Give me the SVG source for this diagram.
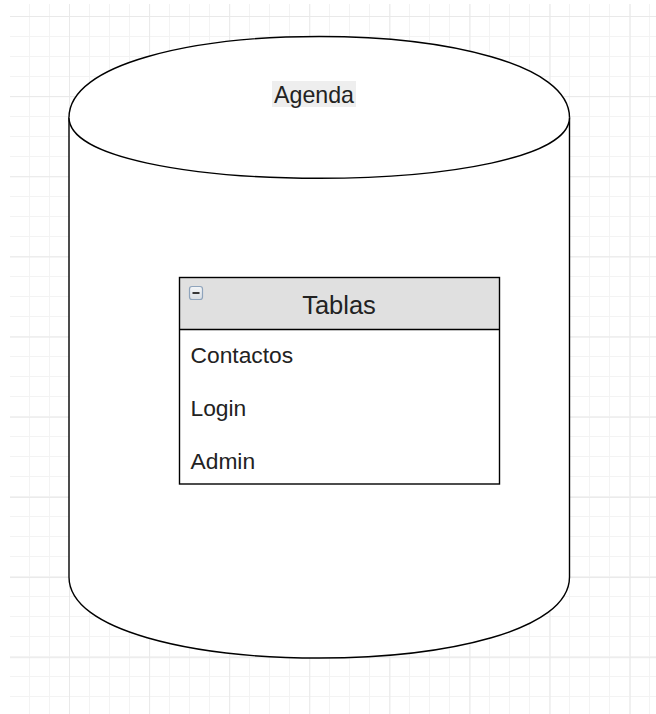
<svg xmlns="http://www.w3.org/2000/svg" width="656" height="714" viewBox="0 0 656 714">
  <style>
    .shape { fill: #ffffff; stroke: #000000; stroke-width: 1.4; }
    .lbl { font-family: "Liberation Sans", Arial, sans-serif; fill: #222222; }
    .item { font-size: 22.8px; }
  </style>
  <defs>
    <pattern id="minor" patternUnits="userSpaceOnUse" x="9" y="16" width="20" height="20">
      <path d="M0.5,0 V20 M0,0.5 H20" stroke="#f3f3f3" stroke-width="1" fill="none"/>
    </pattern>
    <pattern id="major" patternUnits="userSpaceOnUse" x="69" y="16" width="80.1" height="80.15">
      <path d="M0.5,0 V80.15 M0,0.5 H80.1" stroke="#e9e9e9" stroke-width="1" fill="none"/>
    </pattern>
    <linearGradient id="iconGrad" x1="0" y1="0" x2="0" y2="1">
      <stop offset="0" stop-color="#f4f6f8"/>
      <stop offset="1" stop-color="#d8dde3"/>
    </linearGradient>
  </defs>

  <rect x="0" y="0" width="656" height="714" fill="#ffffff"/>
  <g id="grid">
    <rect x="10" y="4" width="646" height="710" fill="url(#minor)"/>
    <rect x="10" y="4" width="646" height="710" fill="url(#major)"/>
  </g>

  <g id="connectors"/>

  <g id="agenda">
    <path class="shape" d="M69,117.5 C69,9.5 569.5,9.5 569.5,117.5 L569.5,577 C569.5,685 69,685 69,577 Z"/>
    <path class="shape" fill="none" d="M69,117.5 C69,198.5 569.5,198.5 569.5,117.5"/>
    <rect x="272" y="81" width="84" height="26" fill="#eeeeee"/>
    <text class="lbl" x="314" y="103" font-size="23.2" text-anchor="middle">Agenda</text>
  </g>

  <g id="tablas">
    <rect x="179.5" y="277.5" width="320" height="52" fill="#e0e0e0" stroke="none"/>
    <rect x="179.5" y="277.5" width="320" height="206.5" fill="none" stroke="#000000" stroke-width="1.4"/>
    <line x1="179.5" y1="329.5" x2="499.5" y2="329.5" stroke="#000000" stroke-width="1.4"/>
    <g id="collapse-icon">
      <rect x="189.5" y="286.5" width="13" height="13" rx="2.5" fill="url(#iconGrad)" stroke="#8fa4bc" stroke-width="1.2"/>
      <line x1="192.5" y1="293" x2="199.5" y2="293" stroke="#222222" stroke-width="1.8"/>
    </g>
    <text class="lbl" x="339" y="314" font-size="25.5" text-anchor="middle">Tablas</text>
    <text class="lbl item" x="190.5" y="363">Contactos</text>
    <text class="lbl item" x="190.5" y="416">Login</text>
    <text class="lbl item" x="190.5" y="469">Admin</text>
  </g>
</svg>
